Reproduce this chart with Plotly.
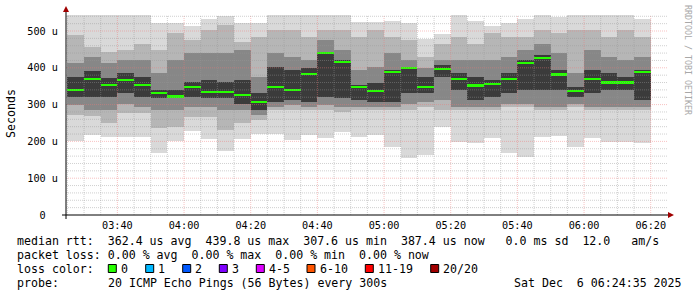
import plotly.graph_objects as go
import pandas as pd

# ---------------- data (values in microseconds) ----------------
step_end = pd.date_range("2025-12-06 03:30:00", periods=35, freq="5min")  # end of each 5-min step
t_start = pd.Timestamp("2025-12-06 03:24:35")
t_end = pd.Timestamp("2025-12-06 06:24:35")

median_us = [340, 370, 354, 367, 354, 331, 322, 347, 334, 335, 327, 307, 347, 340, 384, 441, 416, 348,
             338, 388, 399, 348, 397, 370, 352, 357, 370, 412, 426, 382, 337, 370, 360, 360, 388]
# smoke band boundaries (outer -> inner), read per column
smoke_top = [560, 560, 560, 560, 560, 523, 523, 514, 532, 541, 523, 521, 560, 560, 560, 560, 560, 524,
             524, 526, 521, 479, 492, 560, 526, 514, 521, 532, 560, 537, 543, 560, 560, 560, 532]
smoke_u1 = [489, 457, 444, 448, 466, 448, 494, 476, 503, 516, 471, 485, 503, 503, 485, 503, 503, 485,
            503, 485, 476, 430, 466, 485, 466, 494, 485, 485, 503, 494, 503, 503, 485, 503, 485]
smoke_u2 = [412, 430, 412, 421, 421, 385, 421, 439, 439, 439, 448, 376, 439, 430, 421, 476, 448, 394,
            403, 439, 421, 399, 421, 421, 421, 421, 430, 448, 466, 439, 385, 448, 430, 421, 430]
smoke_u3 = [376, 390, 371, 385, 376, 340, 340, 362, 367, 362, 367, 331, 403, 394, 399, 444, 421, 353,
            358, 394, 403, 376, 408, 385, 376, 367, 385, 421, 435, 394, 349, 394, 385, 376, 394]
smoke_d = [320, 320, 322, 331, 322, 317, 317, 322, 317, 317, 303, 285, 308, 312, 308, 322, 317, 312,
           308, 308, 331, 331, 376, 340, 312, 322, 331, 340, 340, 340, 322, 331, 340, 340, 312]
smoke_l3 = [299, 285, 285, 303, 294, 285, 285, 294, 294, 285, 285, 272, 294, 299, 294, 299, 294, 294,
            294, 294, 303, 308, 312, 294, 294, 294, 303, 303, 294, 294, 303, 294, 294, 294, 294]
smoke_l2 = [272, 269, 249, 276, 276, 236, 240, 267, 267, 231, 249, 258, 285, 285, 285, 285, 281, 285,
            285, 285, 285, 294, 285, 285, 285, 285, 294, 294, 285, 285, 294, 285, 285, 285, 285]
smoke_bottom = [202, 217, 212, 213, 212, 168, 202, 228, 206, 173, 206, 220, 220, 205, 217, 209, 225, 211,
                217, 186, 154, 164, 240, 199, 197, 209, 169, 158, 213, 215, 184, 209, 198, 198, 197]

x_tick_times = pd.date_range("2025-12-06 03:40:00", "2025-12-06 06:20:00", freq="20min")
x_tick_text = [t.strftime("%H:%M") for t in x_tick_times]
y_tick_vals = [0, 100, 200, 300, 400, 500]
y_tick_text = ["0\u00a0\u00a0", "100 u", "200 u", "300 u", "400 u", "500 u"]

legend_line1 = "median rtt:  362.4 us avg  439.8 us max  307.6 us min  387.4 us now   0.0 ms sd  12.0   am/s"
legend_line2 = "packet loss: 0.00 % avg  0.00 % max  0.00 % min  0.00 % now"
loss_labels = ["0", "1", "2", "3", "4-5", "6-10", "11-19", "20/20"]
loss_colors = ["#26ff00", "#00b8ff", "#0059ff", "#7e00ff", "#dd00ff", "#ff5500", "#ff0000", "#a10000"]
probe_text = "20 ICMP Echo Pings (56 Bytes) every 300s"
stamp_text = "Sat Dec  6 06:24:35 2025"

# ---------------- geometry helpers ----------------
W, H = 697, 297
L, R, T, B = 66, 31, 15, 82
PW, PH = W - L - R, H - T - B
Y_MAX = 543.5
STEP_MS = 300000
MONO = "DejaVu Sans Mono"


def px(xp):
    return (xp - L) / PW


def py(yp):
    return (H - B - yp) / PH


fig = go.Figure()

bands = [
    (smoke_bottom, smoke_top, "#d9d9d9"),
    (smoke_l2, smoke_u1, "#b6b6b6"),
    (smoke_l3, smoke_u2, "#878787"),
    (smoke_d, smoke_u3, "#3b3b3b"),
]
for lo, hi, col in bands:
    fig.add_trace(go.Bar(
        x=step_end, base=lo, y=[h - l for l, h in zip(lo, hi)],
        offset=-STEP_MS, width=STEP_MS,
        marker=dict(color=col, line=dict(width=0)), hoverinfo="skip",
    ))

MED_T = 6.0
fig.add_trace(go.Bar(
    x=step_end, base=[m - MED_T / 2 for m in median_us], y=[MED_T] * len(median_us),
    offset=-STEP_MS, width=STEP_MS,
    marker=dict(color=loss_colors[0], line=dict(width=0)), hoverinfo="skip",
))

MAJOR_GRID = "rgba(240,120,120,0.45)"
MINOR_GRID = "rgba(150,150,150,0.45)"
shapes = []
# grid (drawn above the smoke as rrdtool does)
minor_x = pd.date_range("2025-12-06 03:25:00", "2025-12-06 06:20:00", freq="5min")
for t in minor_x:
    major = (t.minute % 20 == 0)
    shapes.append(dict(type="line", xref="x", yref="paper", x0=t, x1=t, y0=0, y1=1,
                       line=dict(color=MAJOR_GRID if major else MINOR_GRID,
                                 width=1, dash="1px,1px"), layer="above"))
for v in range(20, 541, 20):
    major = (v % 100 == 0)
    shapes.append(dict(type="line", xref="paper", yref="y", x0=0, x1=px(668), y0=v, y1=v,
                       line=dict(color=MAJOR_GRID if major else MINOR_GRID,
                                 width=1, dash="1px,1px"), layer="above"))
# axes with arrows
shapes.append(dict(type="line", xref="paper", yref="paper", x0=px(62), x1=px(670), y0=0, y1=0,
                   line=dict(color="black", width=1), layer="above"))
shapes.append(dict(type="line", xref="paper", yref="paper", x0=0, x1=0, y0=py(219), y1=py(10),
                   line=dict(color="black", width=1), layer="above"))
shapes.append(dict(type="path", xref="paper", yref="paper",
                   path=f"M {px(668)} {py(212)} L {px(674)} {py(215)} L {px(668)} {py(218)} Z",
                   fillcolor="#a00000", line=dict(width=0), layer="above"))
shapes.append(dict(type="path", xref="paper", yref="paper",
                   path=f"M {px(63)} {py(12)} L {px(66)} {py(6)} L {px(69)} {py(12)} Z",
                   fillcolor="#a00000", line=dict(width=0), layer="above"))
# loss colour boxes
box_x = [108.3, 145.7, 182.7, 219.3, 256.3, 307.0, 365.3, 430.7]
for bx, col in zip(box_x, loss_colors):
    shapes.append(dict(type="rect", xref="paper", yref="paper",
                       x0=px(bx), x1=px(bx + 8), y0=py(272.5), y1=py(264.5),
                       fillcolor=col, line=dict(color="black", width=1)))

annotations = []


def txt(x, y, s, size=11.6, color="#000000", anchor="left", angle=0):
    annotations.append(dict(x=px(x), y=py(y), xref="paper", yref="paper", text=s, showarrow=False,
                            xanchor=anchor, yanchor="middle", textangle=angle,
                            font=dict(family=MONO, size=size, color=color), borderpad=0))


txt(16, 241, legend_line1.replace(" ", "\u00a0"))
txt(16, 255, legend_line2.replace(" ", "\u00a0"))
txt(16, 269, "loss\u00a0color:")
for bx, lab in zip(box_x, loss_labels):
    txt(bx + 11.5, 269, lab)
txt(16, 283, "probe:")
txt(107, 283, probe_text.replace(" ", "\u00a0"))
txt(513, 283, stamp_text.replace(" ", "\u00a0"))
txt(11, 114, "Seconds", angle=-90, anchor="center")
txt(688, 60, "RRDTOOL\u00a0/\u00a0TOBI\u00a0OETIKER", size=8.3, color="#a8a8a8", angle=90, anchor="center")

fig.update_layout(
    width=W, height=H, margin=dict(l=L, r=R, t=T, b=B, pad=0),
    paper_bgcolor="white", plot_bgcolor="white",
    barmode="overlay", bargap=0, showlegend=False,
    shapes=shapes, annotations=annotations,
    xaxis=dict(type="date", range=[t_start, t_end], tickvals=list(x_tick_times), ticktext=x_tick_text,
               showgrid=False, zeroline=False, showline=False, ticks="",
               tickfont=dict(family=MONO, size=10.2, color="#000000"), ticklabelstandoff=3),
    yaxis=dict(range=[0, Y_MAX], tickvals=y_tick_vals, ticktext=y_tick_text,
               showgrid=False, zeroline=False, showline=False, ticks="",
               tickfont=dict(family=MONO, size=10.2, color="#000000"), ticklabelstandoff=7),
)

fig.write_html("out.html")
